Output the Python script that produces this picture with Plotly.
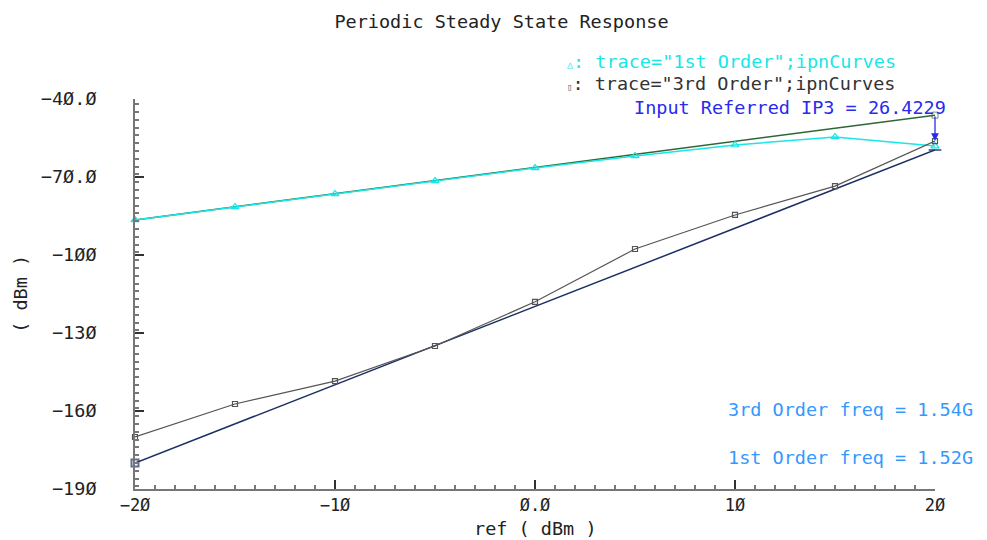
import plotly.graph_objects as go

# ---- data ----
ref = [-20, -15, -10, -5, 0, 5, 10, 15, 20]
first_order = [-86.5, -81.5, -76.5, -71.5, -66.5, -61.9, -57.7, -54.6, -58.1]
third_order = [-170.0, -157.3, -148.5, -135.0, -118.0, -97.7, -84.6, -73.5, -56.2]
ext_x = [-20, 20]
first_ext = [-86.5, -46.2]
third_ext = [-180.0, -59.6]
ip3_value = "26.4229"

y_ticks = [-40, -70, -100, -130, -160, -190]
y_ticktext = ["−4Ø.Ø", "−7Ø.Ø", "−1ØØ", "−13Ø", "−16Ø", "−19Ø"]
x_ticks = [-20, -10, 0, 10, 20]
x_ticktext = ["−2Ø", "−1Ø", "Ø.Ø", "1Ø", "2Ø"]

FONT = "DejaVu Sans Mono"
FS = 18.5
CYAN = "#19e6e6"
GRAY = "#555555"
NAVY = "#1c2f66"
GREEN = "#2e6638"

fig = go.Figure()

# 1st order extrapolation line (green)
fig.add_trace(go.Scatter(x=ext_x, y=first_ext, mode="lines+markers",
                         line=dict(color=GREEN, width=1.5),
                         marker=dict(symbol=["triangle-up", "square-open"], size=[7, 6], color=GREEN),
                         cliponaxis=False, showlegend=False, hoverinfo="skip"))
# 3rd order extrapolation line (navy)
fig.add_trace(go.Scatter(x=ext_x, y=third_ext, mode="lines+markers",
                         line=dict(color=NAVY, width=1.5),
                         marker=dict(symbol=["square-open", "line-ew-open"], size=[7, 9],
                                     color=NAVY, line=dict(color=NAVY, width=2)),
                         cliponaxis=False, showlegend=False, hoverinfo="skip"))
# 1st order curve (cyan)
fig.add_trace(go.Scatter(x=ref, y=first_order, mode="lines+markers",
                         line=dict(color=CYAN, width=1.5),
                         marker=dict(symbol="triangle-up-open", size=7, color=CYAN, line=dict(width=1.2)),
                         cliponaxis=False, showlegend=False))
# 3rd order curve (gray)
fig.add_trace(go.Scatter(x=ref, y=third_order, mode="lines+markers",
                         line=dict(color=GRAY, width=1.2),
                         marker=dict(symbol="square-open", size=5, color=GRAY, line=dict(width=1.2)),
                         cliponaxis=False, showlegend=False))

annotations = [
    # IP3 arrow
    dict(x=20, y=third_order[-1], ax=20, ay=first_ext[-1], xref="x", yref="y", axref="x", ayref="y",
         showarrow=True, arrowhead=2, arrowsize=1.2, arrowwidth=1.3, arrowcolor="#2a2aee", text=""),
    dict(x=1.016, y=0.977, xref="paper", yref="paper", xanchor="right", yanchor="middle",
         text="Input Referred IP3 = " + ip3_value, showarrow=False,
         font=dict(family=FONT, size=FS, color="#2a2aee")),
    dict(x=0.5375, y=1.095, xref="paper", yref="paper", xanchor="left", yanchor="middle",
         text='<span style="font-size:10px">△</span>: trace="1st Order";ipnCurves', showarrow=False,
         font=dict(family=FONT, size=FS, color=CYAN)),
    dict(x=0.5375, y=1.041, xref="paper", yref="paper", xanchor="left", yanchor="middle",
         text='<span style="font-size:9px;color:#555555">▯</span>: trace="3rd Order";ipnCurves', showarrow=False,
         font=dict(family=FONT, size=FS, color="#333333")),
    dict(x=1.05, y=0.2026, xref="paper", yref="paper", xanchor="right", yanchor="middle",
         text="3rd Order freq = 1.54G", showarrow=False,
         font=dict(family=FONT, size=FS, color="#3399ff")),
    dict(x=1.05, y=0.082, xref="paper", yref="paper", xanchor="right", yanchor="middle",
         text="1st Order freq = 1.52G", showarrow=False,
         font=dict(family=FONT, size=FS, color="#3399ff")),
    # axis titles
    dict(x=0.5, y=-0.1, xref="paper", yref="paper", xanchor="center", yanchor="middle",
         text="ref ( dBm )", showarrow=False, font=dict(family=FONT, size=FS, color="#222222")),
    dict(x=-0.144, y=0.5, xref="paper", yref="paper", xanchor="center", yanchor="middle",
         text="( dBm )", textangle=-90, showarrow=False, font=dict(family=FONT, size=FS, color="#222222")),
]

fig.update_layout(
    width=987, height=540,
    margin=dict(l=127, r=60, t=91, b=59),
    paper_bgcolor="white", plot_bgcolor="white",
    title=dict(text="Periodic Steady State Response", x=0.5, xref="container", xanchor="center",
               y=1 - 14 / 540, yref="container", yanchor="middle",
               font=dict(family=FONT, size=FS, color="#222222")),
    annotations=annotations,
    xaxis=dict(range=[-20, 20], showgrid=False, zeroline=False,
               showline=True, linecolor="#777777", linewidth=1.5,
               ticks="inside", ticklen=9, tickcolor="#333333", tickwidth=1.5,
               tickvals=x_ticks, ticktext=x_ticktext,
               tickfont=dict(family=FONT, size=17, color="#222222"),
               minor=dict(dtick=1, ticks="inside", ticklen=4, tickcolor="#777777", showgrid=False)),
    yaxis=dict(range=[-190, -40], showgrid=False, zeroline=False,
               showline=True, linecolor="#777777", linewidth=1.5,
               ticks="inside", ticklen=9, tickcolor="#333333", tickwidth=1.5,
               tickvals=y_ticks, ticktext=y_ticktext,
               ticklabelstandoff=33,
               tickfont=dict(family=FONT, size=FS, color="#222222"),
               minor=dict(dtick=3, ticks="inside", ticklen=4, tickcolor="#777777", showgrid=False)),
)

fig.write_html("out.html")
